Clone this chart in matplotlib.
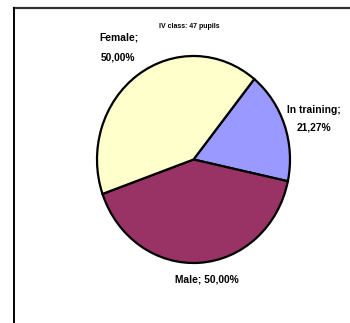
import matplotlib
matplotlib.use("Agg")
import matplotlib.pyplot as plt
from matplotlib.lines import Line2D

title = "IV class: 47 pupils"
categories = ["In training", "Male", "Female"]
values = [21.27, 50.00, 50.00]
value_labels = ["21,27%", "50,00%", "50,00%"]
colors = ["#9999FF", "#993366", "#FFFFCC"]

plt.rcParams['font.family'] = ['Liberation Sans', 'DejaVu Sans']
W, H = 350, 323
fig = plt.figure(figsize=(W / 100, H / 100), dpi=100)

# pie axes (pixels: left 97, right 290, top 56, bottom 263)
ax = fig.add_axes([97 / W, (H - 263) / H, 193 / W, 207 / H])
ax.pie(values, colors=colors, startangle=51, counterclock=False,
       wedgeprops=dict(edgecolor="black", linewidth=1.6))
ax.set_aspect('auto')
ax.set_xlim(-1, 1)
ax.set_ylim(-1, 1)
ax.axis('off')

# frame lines
fig.add_artist(Line2D([14 / W, 1.0], [1 - 8 / H, 1 - 8 / H], color="#333333", lw=1.6))
fig.add_artist(Line2D([14.5 / W, 14.5 / W], [0, 1 - 8 / H], color="black", lw=1.4))

def ftext(x, y, s, size=7.4):
    fig.text(x / W, 1 - y / H, s, ha="center", va="center", fontsize=size,
             fontweight="bold", color="black")

ftext(189, 26, title, size=5)
ftext(119, 38, categories[2] + ";")
ftext(118, 58, value_labels[2])
ftext(314, 110, categories[0] + ";")
ftext(314, 128, value_labels[0])
ftext(207, 279, categories[1] + "; " + value_labels[1])

fig.savefig("out.png", dpi=100, facecolor="white")
